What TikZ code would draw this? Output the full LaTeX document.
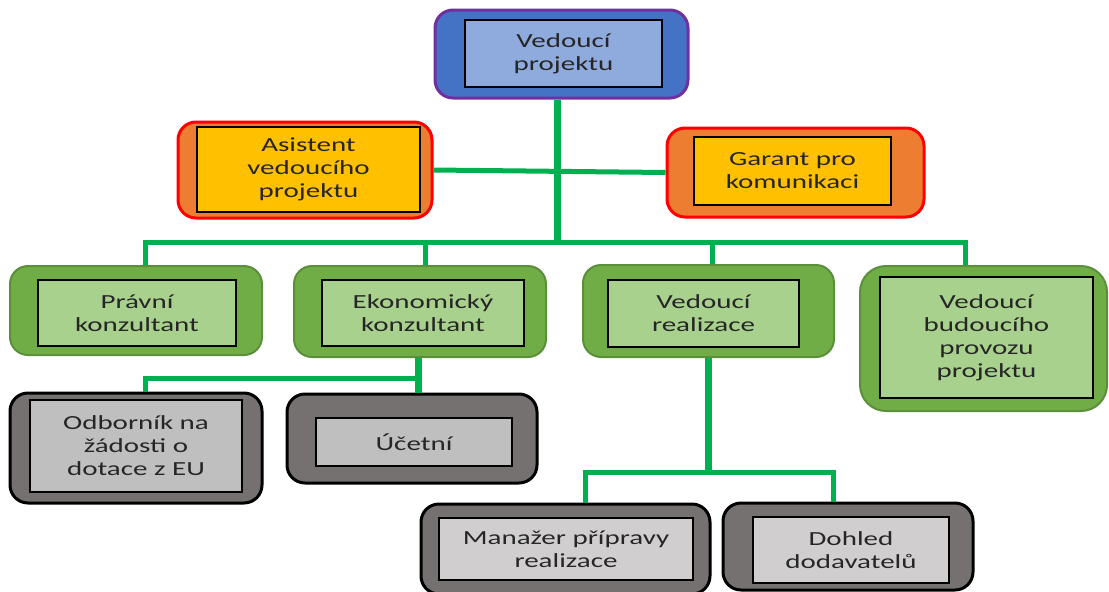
\documentclass[tikz,border=0pt]{standalone}
\usepackage{fontspec}
\setmainfont{Carlito}[FakeStretch=1.45]
\definecolor{vpblue}{HTML}{4472C4}
\definecolor{vppurple}{HTML}{7030A0}
\definecolor{vpinner}{HTML}{8FAADC}
\definecolor{ororange}{HTML}{ED7D31}
\definecolor{orred}{HTML}{FF0000}
\definecolor{oryellow}{HTML}{FFC000}
\definecolor{grgreen}{HTML}{70AD47}
\definecolor{grdark}{HTML}{5B8F3A}
\definecolor{grinner}{HTML}{A9D18E}
\definecolor{gygray}{HTML}{767171}
\definecolor{gyinner}{HTML}{BFBFBF}
\definecolor{gylight}{HTML}{D0CECE}
\definecolor{lgreen}{HTML}{00B050}
\definecolor{txt}{HTML}{262626}
\tikzset{
  outerbox/.style={line width=3pt, rounded corners=18pt, inner sep=0pt},
  blueouter/.style={outerbox, fill=vpblue, draw=vppurple},
  orangeouter/.style={outerbox, fill=ororange, draw=orred},
  greenouter/.style={outerbox, fill=grgreen, draw=grdark, line width=2pt},
  grayouter/.style={outerbox, fill=gygray, draw=black},
  innerbox/.style={draw=black, line width=1.5pt, inner sep=0pt, text=txt, align=center, font=\fontsize{20}{23}\selectfont},
  link/.style={draw=lgreen, line width=5pt, line join=miter},
  vlink/.style={draw=lgreen, line width=7pt},
}
\newcommand\orgouter[6]{\node[#6, minimum width={(#4-#2)*1pt}, minimum height={(#5-#3)*1pt}] (#1) at ({(#2+#4)/2},{(#3+#5)/2}) {};}
\newcommand\orginner[7]{\node[innerbox, fill=#6, minimum width={(#4-#2)*1pt}, minimum height={(#5-#3)*1pt}] (#1) at ({(#2+#4)/2},{(#3+#5)/2}) {#7};}
\begin{document}
\begin{tikzpicture}[x=1pt, y=-1pt]
\useasboundingbox (0,0) rectangle (1109,592);
% boxes
\orgouter{vpO}{435}{10}{688}{98}{blueouter}
\orginner{vp}{465}{20}{662}{87}{vpinner}{Vedoucí\\projektu}
\orgouter{asO}{178}{122}{432}{218}{orangeouter}
\orginner{as}{197}{127}{420}{212}{oryellow}{Asistent\\vedoucího\\projektu}
\orgouter{gaO}{667}{128}{924}{217}{orangeouter}
\orginner{ga}{694}{137}{891}{205}{oryellow}{Garant pro\\komunikaci}
\orgouter{prO}{10}{266}{262}{355}{greenouter}
\orginner{pr}{38}{280}{236}{346}{grinner}{Právní\\konzultant}
\orgouter{ekO}{294}{266}{546}{357}{greenouter}
\orginner{ek}{322}{280}{524}{346}{grinner}{Ekonomický\\konzultant}
\orgouter{vrO}{583}{265}{834}{357}{greenouter}
\orginner{vr}{608}{280}{799}{347}{grinner}{Vedoucí\\realizace}
\orgouter{buO}{860}{266}{1107}{411}{greenouter, rounded corners=26pt}
\orginner{bu}{880}{277}{1093}{398}{grinner}{Vedoucí\\budoucího\\provozu\\projektu}
\orgouter{odO}{10}{393}{262}{503}{grayouter}
\orginner{od}{30}{400}{242}{492}{gyinner}{Odborník na\\žádosti o\\dotace z EU}
\orgouter{ucO}{287}{394}{537}{483}{grayouter}
\orginner{uc}{316}{418}{512}{466}{gyinner}{Účetní}
\orgouter{maO}{421}{504}{710}{594}{grayouter}
\orginner{ma}{439}{518}{693}{580}{gylight}{Manažer přípravy\\realizace}
\orgouter{doO}{723}{503}{973}{590}{grayouter}
\orginner{do}{753}{517}{949}{583}{gylight}{Dohled\\dodavatelů}
% junctions
\coordinate (j1) at (557,242);
\coordinate (busL) at (145,242);
\coordinate (busR) at (965,242);
\coordinate (ekDrop) at (425,242);
\coordinate (vrDrop) at (712,242);
\coordinate (j2) at (418,378);
\coordinate (j2L) at (145,378);
\coordinate (j3) at (708,472);
\coordinate (j3L) at (585,472);
\coordinate (j3R) at (833,472);
% connectors
\draw[vlink] (vpO.south -| j1) -- (j1);
\draw[link] (asO.east) -- (gaO.west);
\draw[link] (busL |- prO.north) -- (busL) -- (busR) -- (busR |- buO.north);
\draw[link] (ekDrop) -- (ekDrop |- ekO.north);
\draw[link] (vrDrop) -- (vrDrop |- vrO.north);
\draw[vlink] (ekO.south -| j2) -- (ucO.north -| j2);
\draw[link] (j2) -- (j2L) -- (j2L |- odO.north);
\draw[vlink] (vrO.south -| j3) -- (j3);
\draw[link] (maO.north -| j3L) -- (j3L) -- (j3R) -- (j3R |- doO.north);
\end{tikzpicture}
\end{document}
